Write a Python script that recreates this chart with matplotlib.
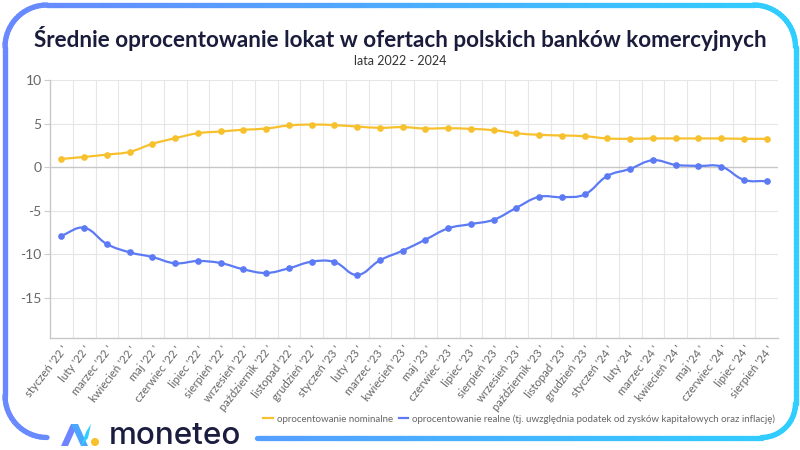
import numpy as np
import matplotlib
matplotlib.use("Agg")
import matplotlib.pyplot as plt
from matplotlib.path import Path
from matplotlib.patches import PathPatch, Polygon, Circle
from matplotlib.collections import LineCollection

plt.rcParams['font.family'] = ['Lato', 'DejaVu Sans']

# data
months = ['styczeń', 'luty', 'marzec', 'kwiecień', 'maj', 'czerwiec', 'lipiec', 'sierpień',
          'wrzesień', 'październik', 'listopad', 'grudzień']
labels = ([f"{m} '22 '" for m in months] + [f"{m} '23 '" for m in months]
          + [f"{m} '24 '" for m in months[:8]])

nominal = [0.95, 1.18, 1.45, 1.76, 2.68, 3.33, 3.9, 4.1, 4.3, 4.44, 4.79, 4.9, 4.83, 4.67, 4.52, 4.6,
           4.44, 4.48, 4.4, 4.25, 3.9, 3.72, 3.64, 3.56, 3.3, 3.26, 3.3, 3.3, 3.3, 3.3, 3.26, 3.26]
real = [-7.87, -6.95, -8.82, -9.77, -10.31, -11.03, -10.77, -11.0, -11.72, -12.14, -11.6, -10.85,
        -10.88, -12.37, -10.69, -9.58, -8.32, -7.02, -6.53, -6.03, -4.66, -3.4, -3.44, -3.13,
        -1.0, -0.19, 0.8, 0.27, 0.15, 0.08, -1.45, -1.6]
yticks = [-15, -10, -5, 0, 5, 10]

YELLOW = '#f7c12e'
BLUE = '#5d7af5'
GRAY = '#666666'


def spline_path(ax, xs, ys, tension=0.4):
    # chart.js style bezier through the points, computed in pixel space
    pts = ax.transData.transform(np.column_stack([xs, ys]))
    n = len(pts)
    cps = []
    for i in range(n):
        p = pts[max(i - 1, 0)]
        m = pts[i]
        q = pts[min(i + 1, n - 1)]
        d01 = np.hypot(*(m - p))
        d12 = np.hypot(*(q - m))
        tot = d01 + d12
        s01 = d01 / tot if tot else 0
        s12 = d12 / tot if tot else 0
        cps.append((m - tension * s01 * (q - p), m + tension * s12 * (q - p)))
    verts = [pts[0]]
    codes = [Path.MOVETO]
    for i in range(n - 1):
        verts += [cps[i][1], cps[i + 1][0], pts[i + 1]]
        codes += [Path.CURVE4] * 3
    verts = ax.transData.inverted().transform(np.array(verts))
    return Path(verts, codes)


fig = plt.figure(figsize=(8, 4.5), dpi=100)
fig.patch.set_facecolor('white')

# frame / decoration layer in pixel coordinates
deco = fig.add_axes([0, 0, 1, 1])
deco.set_xlim(0, 800)
deco.set_ylim(450, 0)
deco.axis('off')


def arc(cx, cy, r, a0, a1, k=20):
    a = np.radians(np.linspace(a0, a1, k))
    return list(zip(cx + r * np.cos(a), cy + r * np.sin(a)))


L, T, R, B = 5, 5, 795.5, 437.5
r1, r2 = 42, 34
frame = []
frame += arc(L + r1, B - r1, r1, 90, 180)
frame += arc(L + r1, T + r1, r1, 180, 270)
frame += arc(R - r1, T + r1, r1, 270, 360)
frame += arc(R - r2, B - r2, r2, 0, 90)
frame += [(257, B)]
frame = np.array(frame)
# densify so the gradient looks smooth
dense = [frame[0]]
for a, b in zip(frame[:-1], frame[1:]):
    k = max(int(np.hypot(*(b - a)) / 4), 1)
    for t in np.linspace(0, 1, k + 1)[1:]:
        dense.append(a + (b - a) * t)
dense = np.array(dense)
segs = np.stack([dense[:-1], dense[1:]], axis=1)
cmap = matplotlib.colors.LinearSegmentedColormap.from_list('frame', ['#6a88ff', '#2fcfff'])
lc = LineCollection(segs, colors=cmap(segs[:, :, 0].mean(axis=1) / 800), linewidths=3.8,
                    capstyle='round')
deco.add_collection(lc)

# logo
deco.add_patch(Polygon([(61, 446), (71, 424), (78, 424), (68, 446)], closed=True,
                       color='#6f84ff', lw=0))
deco.add_patch(Polygon([(71, 424), (78, 424), (88, 446), (81, 446)], closed=True,
                       color='#4ba6ff', lw=0))
deco.add_patch(Polygon([(81, 446), (86, 432), (91, 424), (88, 438)], closed=True,
                       color='#2fcfff', lw=0))
deco.add_patch(Circle((95, 442), 4, color='#f7c12e', lw=0))
deco.text(109, 444, 'moneteo', fontsize=22.6, color='#1b1d3f', family=['Inter', 'DejaVu Sans'],
          fontweight='medium', ha='left', va='baseline')

# titles
fig.text(0.5, 0.915, 'Średnie oprocentowanie lokat w ofertach polskich banków komercyjnych',
         ha='center', va='center', fontsize=16.2, fontweight='bold', color='#1a1c3c')
fig.text(0.5, 0.864, 'lata 2022 - 2024', ha='center', va='center', fontsize=9, color='#333333')

# main chart
ax = fig.add_axes([0.0625, 0.249, 0.9100, 0.573])
x = np.arange(len(labels))
ax.set_xlim(-0.5, len(labels) - 0.5)
ax.set_ylim(-19.6, 10)

ax.set_yticks(yticks)
ax.set_yticklabels([str(v) for v in yticks])
ax.set_xticks(x)
ax.set_xticklabels(labels, rotation=52, ha='right', va='top', rotation_mode='anchor',
                   fontsize=8.2, color=GRAY)
ax.tick_params(axis='x', length=0, pad=4)
ax.tick_params(axis='y', length=4, color='#cccccc', labelsize=10, labelcolor=GRAY, pad=2)

for xv in np.arange(0.5, len(labels) - 0.5):
    ax.axvline(xv, color='#e6e6e6', lw=0.8, zorder=0)
for yv in yticks:
    ax.axhline(yv, color='#c8c8c8' if yv == 0 else '#e6e6e6', lw=0.8 if yv else 1.0, zorder=0)

for s in ['top', 'right']:
    ax.spines[s].set_visible(False)
for s in ['left', 'bottom']:
    ax.spines[s].set_color('#c8c8c8')
    ax.spines[s].set_linewidth(1.0)

for vals, col in [(nominal, YELLOW), (real, BLUE)]:
    ax.add_patch(PathPatch(spline_path(ax, x, vals), fill=False, edgecolor=col, lw=1.6, zorder=3))
    ax.plot(x, vals, 'o', color=col, ms=3.8, zorder=4)

h1 = plt.Line2D([], [], color=YELLOW, lw=1.6)
h2 = plt.Line2D([], [], color=BLUE, lw=1.6)
fig.legend([h1, h2], ['oprocentowanie nominalne',
                      'oprocentowanie realne (tj. uwzględnia podatek od zysków kapitałowych oraz inflację)'],
           loc='center', bbox_to_anchor=(0.649, 0.069), ncol=2, frameon=False, fontsize=7.0,
           handlelength=1.0, handletextpad=0.4, columnspacing=0.6, labelcolor=GRAY)

fig.savefig('out.png', dpi=100)
